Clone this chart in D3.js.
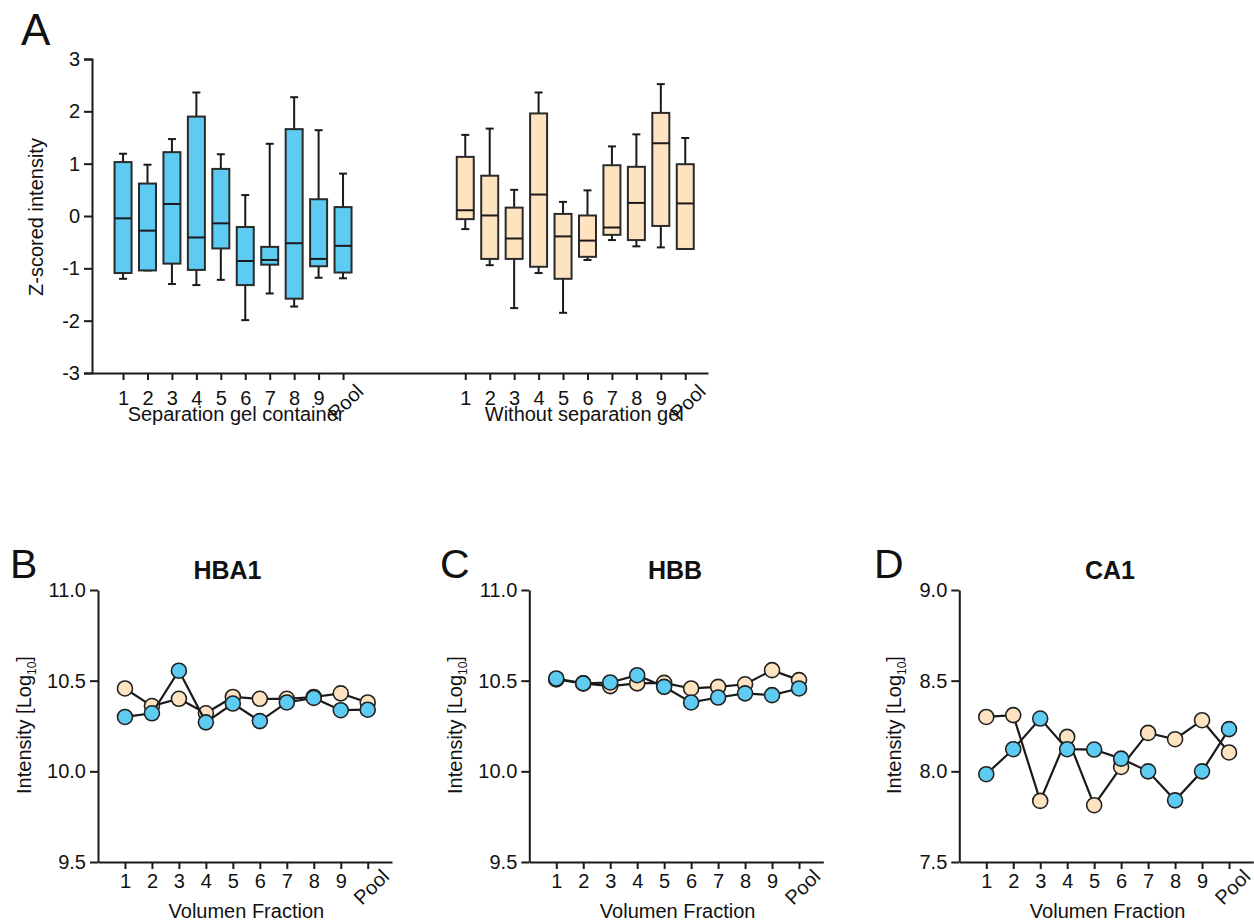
<!DOCTYPE html>
<html><head><meta charset="utf-8">
<script src="https://cdn.jsdelivr.net/npm/d3@7"></script>
<style>
body{margin:0;background:#fff}
text{font-family:"Liberation Sans",Arial,Helvetica,sans-serif;fill:#111}
</style>
</head><body><svg id="c" width="1254" height="922"></svg>
<script>
// ---------- DATA ----------
const categories = ["1","2","3","4","5","6","7","8","9","Pool"];
const zTicks = [-3,-2,-1,0,1,2,3];
// Panel A - Separation gel container (blue)
const sepLow  = [-1.20,-1.04,-1.30,-1.32,-1.22,-1.99,-1.48,-1.73,-1.18,-1.19];
const sepQ1   = [-1.09,-1.04,-0.91,-1.03,-0.62,-1.32,-0.93,-1.58,-0.96,-1.08];
const sepMed  = [-0.045,-0.28,0.23,-0.41,-0.14,-0.86,-0.84,-0.52,-0.82,-0.57];
const sepQ3   = [1.03,0.62,1.22,1.90,0.90,-0.21,-0.59,1.66,0.32,0.17];
const sepHigh = [1.19,0.98,1.47,2.36,1.18,0.40,1.38,2.27,1.64,0.81];
// Panel A - Without separation gel (beige)
const noLow  = [-0.25,-0.94,-1.76,-1.09,-1.85,-0.84,-0.46,-0.58,-0.60,-0.63];
const noQ1   = [-0.06,-0.82,-0.82,-0.97,-1.20,-0.78,-0.36,-0.46,-0.19,-0.63];
const noMed  = [0.11,0.01,-0.43,0.41,-0.39,-0.47,-0.22,0.25,1.39,0.24];
const noQ3   = [1.13,0.77,0.16,1.96,0.04,0.01,0.97,0.94,1.97,0.99];
const noHigh = [1.55,1.67,0.50,2.36,0.27,0.49,1.33,1.56,2.52,1.49];
// Panels B-D (log10 intensity)
const hba1Sep = [10.30,10.32,10.555,10.27,10.374,10.277,10.38,10.405,10.337,10.34];
const hba1No  = [10.457,10.36,10.40,10.32,10.41,10.40,10.40,10.41,10.43,10.38];
const hbbSep  = [10.512,10.485,10.49,10.53,10.466,10.38,10.407,10.43,10.42,10.457];
const hbbNo   = [10.507,10.485,10.47,10.485,10.488,10.457,10.466,10.48,10.558,10.503];
const ca1Sep  = [7.984,8.122,8.291,8.122,8.12,8.07,8.0,7.84,8.0,8.233];
const ca1No   = [8.30,8.31,7.837,8.19,7.813,8.024,8.212,8.177,8.282,8.104];
const hbTicks = [9.5,10.0,10.5,11.0];
const caTicks = [7.5,8.0,8.5,9.0];

const BLUE = "#5ecbf2", BEIGE = "#fde3bf", INK = "#1a1a1a";
const FONT = 20;

const svg = d3.select("#c");

function styleAxis(g){
  g.selectAll("path.domain").attr("stroke",INK).attr("stroke-width",2);
  g.selectAll(".tick line").attr("stroke",INK).attr("stroke-width",2);
  g.selectAll(".tick text").attr("font-size",FONT).attr("fill","#111")
    .style("font-family",'"Liberation Sans",Arial,sans-serif');
}

// ---------- PANEL A ----------
(function(){
  const x = d3.scaleLinear().domain([-1.27,23.93]).range([92,708]);
  const y = d3.scaleLinear().domain([-3,3]).range([373,59]);
  const idx = d3.range(10).concat(d3.range(14,24));
  const gy = svg.append("g").attr("transform","translate(92,0)")
    .call(d3.axisLeft(y).tickValues(zTicks).tickSize(8).tickPadding(4).tickFormat(d=>String(d)));
  styleAxis(gy);
  const gx = svg.append("g").attr("transform","translate(0,373)")
    .call(d3.axisBottom(x).tickValues(idx).tickSize(7).tickPadding(3).tickSizeOuter(0)
      .tickFormat(i=>categories[i%14]));
  styleAxis(gx);
  gx.selectAll(".tick text").attr("y",32).attr("dy",0);
  gx.selectAll(".tick text").filter(i=>categories[i%14]==="Pool")
    .attr("y",0).attr("dy","0.35em").attr("text-anchor","middle")
    .attr("transform","translate(2,29) rotate(-45)");

  const groups = [
    {off:0, fill:BLUE, low:sepLow,q1:sepQ1,med:sepMed,q3:sepQ3,high:sepHigh},
    {off:14,fill:BEIGE,low:noLow,q1:noQ1,med:noMed,q3:noQ3,high:noHigh}
  ];
  const bw = 17, cw = 8;
  groups.forEach(gr=>{
    const data = categories.map((c,i)=>({i:i+gr.off,low:gr.low[i],q1:gr.q1[i],med:gr.med[i],q3:gr.q3[i],high:gr.high[i]}));
    const b = svg.append("g").selectAll("g").data(data).join("g");
    b.append("line").attr("x1",d=>x(d.i)).attr("x2",d=>x(d.i)).attr("y1",d=>y(d.high)).attr("y2",d=>y(d.q3))
      .attr("stroke",INK).attr("stroke-width",2);
    b.append("line").attr("x1",d=>x(d.i)).attr("x2",d=>x(d.i)).attr("y1",d=>y(d.q1)).attr("y2",d=>y(d.low))
      .attr("stroke",INK).attr("stroke-width",2);
    b.append("line").attr("x1",d=>x(d.i)-cw/2).attr("x2",d=>x(d.i)+cw/2).attr("y1",d=>y(d.high)).attr("y2",d=>y(d.high))
      .attr("stroke",INK).attr("stroke-width",2);
    b.append("line").attr("x1",d=>x(d.i)-cw/2).attr("x2",d=>x(d.i)+cw/2).attr("y1",d=>y(d.low)).attr("y2",d=>y(d.low))
      .attr("stroke",INK).attr("stroke-width",2);
    b.append("rect").attr("x",d=>x(d.i)-bw/2).attr("width",bw)
      .attr("y",d=>y(d.q3)).attr("height",d=>y(d.q1)-y(d.q3))
      .attr("fill",gr.fill).attr("stroke","#2a2a2a").attr("stroke-width",2);
    b.append("line").attr("x1",d=>x(d.i)-bw/2).attr("x2",d=>x(d.i)+bw/2).attr("y1",d=>y(d.med)).attr("y2",d=>y(d.med))
      .attr("stroke",INK).attr("stroke-width",2);
  });

  svg.append("text").attr("x",x(4.5)+3).attr("y",421).attr("text-anchor","middle").attr("font-size",FONT)
    .text("Separation gel container");
  svg.append("text").attr("x",x(18.5)+9).attr("y",421).attr("text-anchor","middle").attr("font-size",FONT)
    .text("Without separation gel");
  svg.append("text").attr("transform","translate(43,217) rotate(-90)").attr("text-anchor","middle")
    .attr("font-size",FONT).text("Z-scored intensity");
  svg.append("text").attr("x",21).attr("y",45).attr("font-size",44).text("A");
})();

// ---------- PANELS B-D ----------
function linePanel(cfg){
  const x0 = cfg.x0, top = 590, bottom = 862, w = 294;
  const x = d3.scaleLinear().domain([-1,9.9]).range([x0,x0+w]);
  const y = d3.scaleLinear().domain([cfg.ticks[0],cfg.ticks[cfg.ticks.length-1]]).range([bottom,top]);
  const gy = svg.append("g").attr("transform",`translate(${x0},0)`)
    .call(d3.axisLeft(y).tickValues(cfg.ticks).tickSize(8).tickPadding(4).tickSizeOuter(0).tickFormat(d3.format(".1f")));
  styleAxis(gy);
  const gx = svg.append("g").attr("transform",`translate(0,${bottom})`)
    .call(d3.axisBottom(x).tickValues(d3.range(10)).tickSize(7).tickSizeOuter(0).tickFormat(i=>categories[i]));
  styleAxis(gx);
  gx.selectAll(".tick text").attr("y",26).attr("dy",0);
  gx.selectAll(".tick text").filter(i=>categories[i]==="Pool")
    .attr("y",0).attr("dy","0.35em").attr("text-anchor","middle")
    .attr("transform","translate(3,25) rotate(-45)");

  const line = d3.line().x((d,i)=>x(i)).y(d=>y(d));
  [{v:cfg.no,fill:BEIGE},{v:cfg.sep,fill:BLUE}].forEach(s=>{
    svg.append("path").datum(s.v).attr("d",line).attr("fill","none").attr("stroke",INK).attr("stroke-width",2.2);
    svg.append("g").selectAll("circle").data(s.v).join("circle")
      .attr("cx",(d,i)=>x(i)).attr("cy",d=>y(d)).attr("r",7.5)
      .attr("fill",s.fill).attr("stroke","#222").attr("stroke-width",1.6);
  });

  svg.append("text").attr("x",cfg.titleX).attr("y",579).attr("text-anchor","middle")
    .attr("font-size",25).attr("font-weight","bold").text(cfg.title);
  svg.append("text").attr("x",cfg.letterX).attr("y",578).attr("font-size",41).text(cfg.letter);
  svg.append("text").attr("x",x(4.5)).attr("y",918).attr("text-anchor","middle").attr("font-size",FONT)
    .text("Volumen Fraction");
  const yl = svg.append("text").attr("transform",`translate(${x0-cfg.ylOff},725) rotate(-90)`)
    .attr("text-anchor","middle").attr("font-size",FONT);
  yl.append("tspan").text("Intensity [Log");
  yl.append("tspan").attr("font-size",12).attr("dy",5).text("10");
  yl.append("tspan").attr("dy",-5).text("]");
}

linePanel({x0:98,  title:"HBA1", titleX:227.5, letter:"B", letterX:10,  ticks:hbTicks, sep:hba1Sep, no:hba1No, ylOff:67});
linePanel({x0:529.3, title:"HBB", titleX:675,  letter:"C", letterX:440, ticks:hbTicks, sep:hbbSep,  no:hbbNo,  ylOff:67});
linePanel({x0:959.3, title:"CA1", titleX:1110, letter:"D", letterX:874, ticks:caTicks, sep:ca1Sep,  no:ca1No,  ylOff:58});
</script>
</body></html>
